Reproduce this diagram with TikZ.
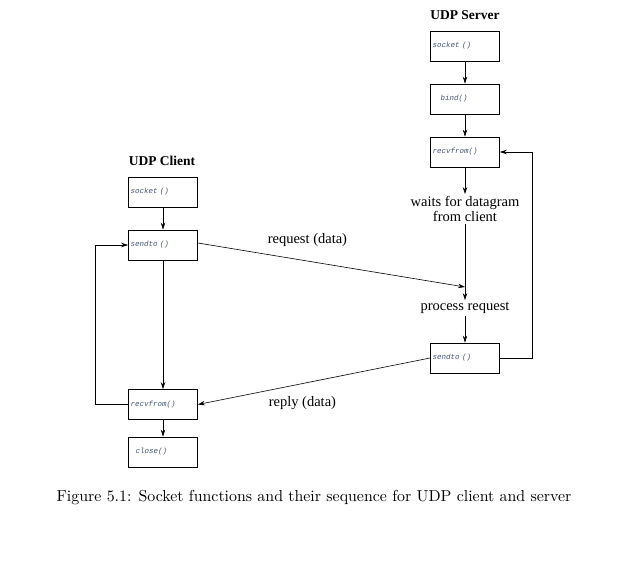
\documentclass[tikz,border=0pt]{standalone}
\usepackage{fontspec}
\usepackage{tikz}
\usetikzlibrary{%
  positioning
 ,arrows.meta
 ,calc
}
\newfontfamily\timesfont{Liberation Serif}
\newfontfamily\fnfont{Liberation Mono}
\newfontfamily\capfont{lmroman10-regular}[Extension=.otf]
\definecolor{fncol}{RGB}{70,82,115}
\tikzstyle{flow}=[>={Stealth[length=7pt,width=4.5pt]},node distance=53pt,on grid,line width=0.6pt]
\tikzstyle{fn}=[draw=black,line width=0.8pt,minimum width=69pt,minimum height=30pt,
  text width=65pt,align=left,inner sep=2pt,font=\fnfont\itshape\fontsize{7.5}{9}\selectfont,text=fncol]
\tikzstyle{lbl}=[font=\timesfont\fontsize{14.5}{15}\selectfont,align=center,inner sep=2pt]
\tikzstyle{ttl}=[font=\timesfont\bfseries\fontsize{13.5}{14.5}\selectfont,inner sep=2pt]

\begin{document}
\begin{tikzpicture}[flow,x=1pt,y=-1pt]
  \useasboundingbox (0,0) rectangle (637,575);
  % server side
  \node[ttl]  (s_title) at (465,15)        {UDP Server};
  \node[fn]   (s_sock)  at (465,46)        {socket ()};
  \node[fn]   (s_bind)  [below=of s_sock] {\hspace*{8pt}bind()};
  \node[fn]   (s_recv)  [below=of s_bind] {recvfrom()};
  \node[lbl]  (s_wait)  at (465,209)       {waits for datagram\\from client};
  \node[lbl]  (s_proc)  at (465,308)       {process request};
  \node[fn]   (s_send)  at (465,358)       {sendto ()};
  \coordinate (s_join)  at (465,287);
  % client side
  \node[ttl]  (c_title) at (162,161)       {UDP Client};
  \node[fn]   (c_sock)  at (163,192)       {socket ()};
  \node[fn]   (c_send)  [below=of c_sock] {sendto ()};
  \node[fn]   (c_recv)  at (163,404.5)     {recvfrom()};
  \node[fn]   (c_close) at (163,452)       {\hspace*{5pt}close()};
% 
  \path[->]
  (s_sock) edge (s_bind)
  (s_bind) edge (s_recv)
  (s_recv) edge (s_wait)
  (s_wait) edge (s_proc)
  (s_proc) edge (s_send)
  (c_sock) edge (c_send)
  (c_send) edge (c_recv)
  (c_recv) edge (c_close)
  ([yshift=2pt]c_send.east) edge node (c_req) [lbl,pos=0.41,above=12pt] {request (data)} (s_join)
  (s_send.west) edge node (s_rep) [lbl,pos=0.55,below=11pt] {reply (data)} (c_recv.east);
  \draw[->] (s_send.east) -- ++(32,0) |- (s_recv.east);
  \draw[->] (c_recv.west) -- ++(-33,0) |- (c_send.west);
  % caption
  \node[inner sep=0pt,font=\capfont\fontsize{15.9}{18}\selectfont] (fig_cap) at (314,498)
    {Figure 5.1: Socket functions and their sequence for UDP client and server};
\end{tikzpicture}
\end{document}
